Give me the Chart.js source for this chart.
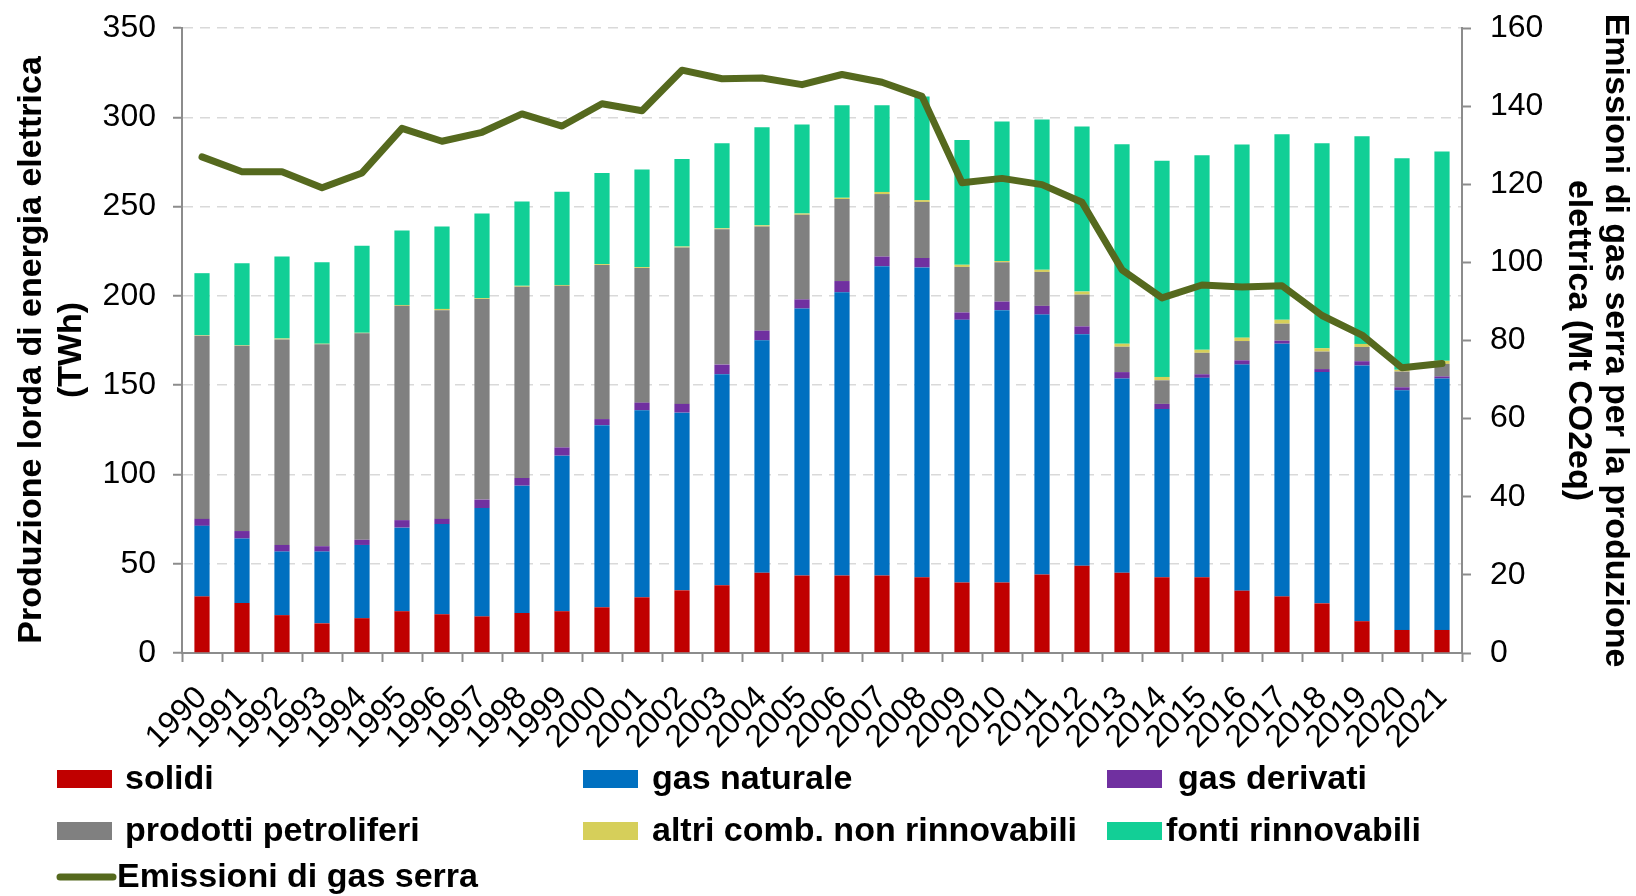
<!DOCTYPE html>
<html><head><meta charset="utf-8">
<script src="https://cdn.jsdelivr.net/npm/chart.js@4.4.0/dist/chart.umd.min.js"></script>
<style>html,body{margin:0;padding:0;background:#fff;}canvas{display:block}</style>
</head><body>
<canvas id="c" width="1636" height="896"></canvas>
<script>
const years = ['1990','1991','1992','1993','1994','1995','1996','1997','1998','1999','2000','2001','2002','2003','2004','2005','2006','2007','2008','2009','2010','2011','2012','2013','2014','2015','2016','2017','2018','2019','2020','2021'];
const solidi = [31.7,28,21.2,16.6,19.5,23.4,21.7,20.5,22.4,23.4,25.6,31.2,35.1,38,44.9,43.4,43.4,43.4,42.4,39.5,39.5,43.9,48.8,44.9,42.4,42.4,34.9,31.7,27.8,17.8,12.9,12.9];
const gasNaturale = [39.5,36.1,35.6,40.2,41,46.8,50.5,60.7,71.3,87.1,102,104.7,99.5,118.1,130.2,149.5,158.6,173.2,173.5,147.1,152.5,145.6,129.7,108.8,94.2,111.7,126.6,141.5,129.5,143.2,134.2,140.8];
const gasDerivati = [3.9,4.2,3.7,3,2.9,4.2,2.9,4.7,4.3,4.6,3.4,4.3,4.9,5.4,5.4,5.1,6.3,5.4,5.3,4.1,4.8,4.9,4.4,3.6,2.9,2,2.4,1.7,1.7,2.4,1.7,1.2];
const prodottiPetroliferi = [102.6,103.8,115.1,113.1,115.6,120,116.8,112.3,107.1,90.5,86.3,75.4,87.6,75.8,58.3,47.4,45.9,35,31.4,25.5,22,19,17.8,14.2,13.2,12,10.8,9.5,9.8,8,8.8,7];
const altriComb = [0.3,0.3,0.5,0.3,0.3,0.5,0.8,0.5,0.5,0.5,0.5,0.5,0.5,0.5,0.7,0.7,0.7,1.2,1,1.2,0.7,1.2,1.7,1.7,1.9,1.7,1.9,2.2,1.9,1.7,1,1.7];
const fontiRinnovabili = [34.7,45.9,45.9,45.6,48.7,41.7,46.1,47.4,47.3,52.2,51,54.6,49,47.6,54.9,49.8,51.9,48.6,58,69.9,78.1,84.2,92.5,111.7,121.1,109,108.1,103.9,114.7,116.3,118.5,117.3];
const emissioni = [127,123.2,123.2,119.1,122.9,134.3,131,133.3,138,134.9,140.6,138.8,149.2,147,147.2,145.5,148.1,146.1,142.5,120.4,121.5,119.9,115.4,98.1,90.9,94.2,93.7,94,86.4,81.4,73,74.1];

const FONT = '"Liberation Sans", Arial, sans-serif';
const AXIS = '#8c8c8c';

function bar(label, data, color) {
  return {type:'bar', label, data, backgroundColor:color, borderWidth:0, yAxisID:'y', order:1,
          barPercentage:0.38, categoryPercentage:1.0};
}

const legendItems = [
  {i:1, x:57, row:0, tx:125}, {i:2, x:583, row:0, tx:652}, {i:3, x:1107, row:0, tx:1178},
  {i:4, x:57, row:1, tx:125}, {i:5, x:583, row:1, tx:652}, {i:6, x:1107, row:1, tx:1166},
  {i:0, x:57, row:2, tx:117}
];
const rowY = [779, 831, 877];

const legendPlugin = {
  id:'customLegend',
  afterDraw(chart) {
    const ctx = chart.ctx;
    ctx.save();
    ctx.font = 'bold 34px ' + FONT;
    ctx.textBaseline = 'middle';
    ctx.fillStyle = '#000';
    legendItems.forEach(it => {
      const ds = chart.data.datasets[it.i];
      const y = rowY[it.row];
      if (ds.type === 'line') {
        ctx.strokeStyle = ds.borderColor;
        ctx.lineWidth = 7; ctx.lineCap = 'round';
        ctx.beginPath(); ctx.moveTo(it.x + 3, y); ctx.lineTo(it.x + 56, y); ctx.stroke();
      } else {
        ctx.fillStyle = ds.backgroundColor;
        ctx.fillRect(it.x, y - 9, 55, 18);
      }
      ctx.fillStyle = '#000';
      ctx.fillText(ds.label, it.tx, y + 1);
    });
    ctx.restore();
  }
};

function noPad(s) { s.paddingTop = 0; s.paddingBottom = 0; }

new Chart(document.getElementById('c'), {
  data: {
    labels: years,
    datasets: [
      {type:'line', label:'Emissioni di gas serra', data:emissioni, yAxisID:'y1', order:0,
       borderColor:'#55691E', backgroundColor:'#55691E', borderWidth:7, pointRadius:0, tension:0,
       borderCapStyle:'round', borderJoinStyle:'round'},
      bar('solidi', solidi, '#C00000'),
      bar('gas naturale', gasNaturale, '#0070C0'),
      bar('gas derivati', gasDerivati, '#7030A0'),
      bar('prodotti petroliferi', prodottiPetroliferi, '#808080'),
      bar('altri comb. non rinnovabili', altriComb, '#D6CF5A'),
      bar('fonti rinnovabili', fontiRinnovabili, '#12CF96')
    ]
  },
  options: {
    responsive:false, animation:false,
    layout:{padding:{top:28, left:0, right:0, bottom:0}},
    plugins:{legend:{display:false}, tooltip:{enabled:false}},
    scales:{
      x:{stacked:true,
         grid:{drawOnChartArea:false, offset:true, tickLength:9, tickColor:AXIS, tickWidth:2},
         border:{color:AXIS, width:2},
         ticks:{color:'#000', font:{family:FONT, size:32}, minRotation:45, maxRotation:45, padding:17, autoSkip:false},
         afterFit(s){ s.height = 243; s.paddingLeft = 0; s.paddingRight = 0; }},
      y:{stacked:true, position:'left', min:0, max:350,
         ticks:{stepSize:50, color:'#000', font:{family:FONT, size:32}, padding:17},
         grid:{color:'#D9D9D9', lineWidth:1.5, tickLength:9, tickColor:AXIS, tickWidth:2},
         border:{color:AXIS, width:2, dash:[10,7]},
         title:{display:true, text:['Produzione lorda di energia elettrica  ','(TWh)  '], color:'#000',
                font:{family:FONT, size:34, weight:'bold', lineHeight:1.16}, padding:{top:12, bottom:0}},
         afterFit(s){ s.width = 182; noPad(s); }},
      y1:{position:'right', min:0, max:160,
         ticks:{stepSize:20, color:'#000', font:{family:FONT, size:32}, padding:19},
         grid:{drawOnChartArea:false, tickLength:9, tickColor:AXIS, tickWidth:2},
         border:{color:AXIS, width:2},
         title:{display:true, text:['Emissioni di gas serra per la produzione','elettrica (Mt CO2eq)'], color:'#000',
                font:{family:FONT, size:34, weight:'bold', lineHeight:1.1}, padding:{top:2, bottom:0}},
         afterFit(s){ s.width = 174; noPad(s); }}
    }
  },
  plugins:[legendPlugin]
});
</script>
</body></html>
